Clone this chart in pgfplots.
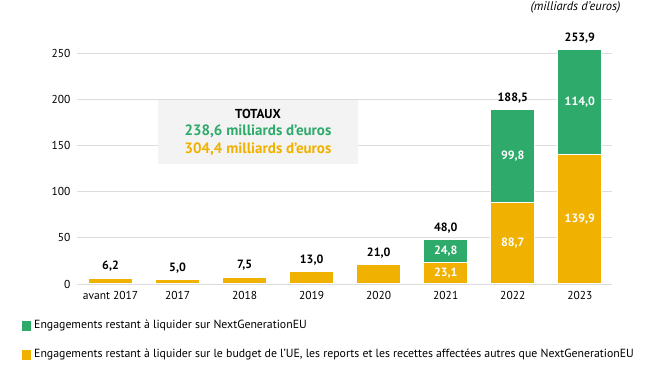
\documentclass[border=0pt]{standalone}
\usepackage{pgfplots}
\pgfplotsset{compat=1.18}
\usepackage{fontspec}
\setmainfont{PT Sans}
\definecolor{vert}{RGB}{46,170,106}
\definecolor{jaune}{RGB}{240,177,0}
\definecolor{grille}{RGB}{220,220,220}
\definecolor{boite}{RGB}{243,243,243}
\pgfplotstableread{
x total lab
0 6.2 {6,2}
1 5.0 {5,0}
2 7.5 {7,5}
3 13.0 {13,0}
4 21.0 {21,0}
5 48.0 {48,0}
6 188.5 {188,5}
7 253.9 {253,9}
}\totaux
\pgfplotstableread{
x y
0 6.2
1 5.0
2 7.5
3 13.0
4 21.0
5 23.1
6 88.7
7 139.9
}\jaunedata
\pgfplotstableread{
x mid lab
5 11.55 {23,1}
5 35.5 {24,8}
6 44.35 {88,7}
6 138.6 {99,8}
7 69.95 {139,9}
7 196.9 {114,0}
}\interne
\begin{document}
\begin{tikzpicture}[x=1pt,y=1pt]
\begin{axis}[scale only axis,
  width=535pt, height=231pt, xmin=-0.5, xmax=7.48, ymin=0, ymax=250,
  clip=false, axis line style={draw=none}, tick style={draw=none},
  major tick length=0pt,
  ytick={0,50,...,250}, ymajorgrids, grid style={grille, line width=0.9pt},
  xtick={0,...,7},
  xticklabels={avant 2017,2017,2018,2019,2020,2021,2022,2023},
  tick label style={font=\fontsize{11.5}{13}\selectfont},
  yticklabel style={xshift=-3pt},
  xticklabel style={yshift=-4pt},
  /pgf/number format/assume math mode=true,
  ]
\addplot[ybar, bar width=44pt, bar shift=0pt, fill=vert, draw=white, line width=1pt] table[x=x, y=total] {\totaux};
\addplot[ybar, bar width=44pt, bar shift=0pt, fill=jaune, draw=white, line width=1pt] table[x=x, y=y] {\jaunedata};
\addplot[draw=none, mark=none, nodes near coords, point meta=explicit symbolic,
  every node near coord/.append style={anchor=south, yshift=3pt, font=\fontsize{12}{14}\selectfont\bfseries, text=black}]
  table[x=x, y=total, meta=lab] {\totaux};
\addplot[draw=none, mark=none, nodes near coords, point meta=explicit symbolic,
  every node near coord/.append style={anchor=center, font=\fontsize{12}{14}\selectfont\bfseries, text=white}]
  table[x=x, y=mid, meta=lab] {\interne};
\coordinate (O) at (rel axis cs:0,0);
\end{axis}
\begin{scope}[shift={(O)}, xshift=-77pt, yshift=284pt]
\path[use as bounding box] (0,0) rectangle (672,-374);
\fill[boite] (158,-100) rectangle (358,-164);
\node[font=\fontsize{13}{15}\selectfont\bfseries] at (258,-114) {TOTAUX};
\node[font=\fontsize{15}{17}\selectfont\bfseries, text=vert] at (258,-131) {238,6 milliards d’euros};
\node[font=\fontsize{15}{17}\selectfont\bfseries, text=jaune] at (258,-149) {304,4 milliards d’euros};
\node[anchor=east, font=\fontsize{12.5}{15}\selectfont\itshape] at (624,-7) {(milliards d’euros)};
\fill[vert] (22,-321) rectangle (31,-331);
\node[anchor=west, inner sep=1pt, font=\fontsize{11.8}{13}\selectfont] at (33,-326) {Engagements restant à liquider sur NextGenerationEU};
\fill[jaune] (22,-350) rectangle (31,-360);
\node[anchor=west, inner sep=1pt, font=\fontsize{11.8}{13}\selectfont] at (33,-355) {Engagements restant à liquider sur le budget de l’UE, les reports et les recettes affectées autres que NextGenerationEU};
\end{scope}
\end{tikzpicture}
\end{document}
